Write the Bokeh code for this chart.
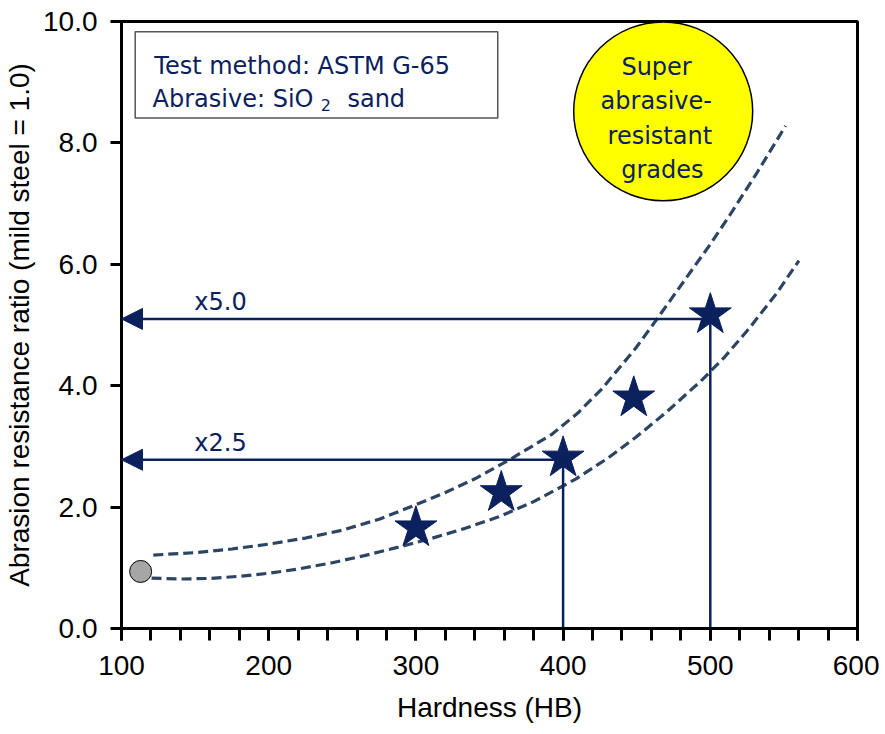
from bokeh.plotting import figure
from bokeh.models import (Range1d, SingleIntervalTicker, NumeralTickFormatter, Arrow,
                          NormalHead, Label, BoxAnnotation)
from bokeh.embed import file_html
from bokeh.resources import INLINE

# ---------------- data ----------------
mild_steel_hb = [113]
mild_steel_ratio = [0.94]

grade_hb = [300, 358, 400, 448, 500]
grade_ratio = [1.66, 2.24, 2.81, 3.80, 5.17]

upper_hb = [121.6, 150, 175, 200, 225, 250, 275, 297, 320, 340.4, 365, 392.4, 410, 426.4,
            449.4, 465.3, 483.5, 500, 513, 532, 551.1]
upper_ratio = [1.21, 1.25, 1.31, 1.39, 1.49, 1.62, 1.80, 2.01, 2.24, 2.47, 2.80, 3.20, 3.55, 3.95,
               4.62, 5.15, 5.77, 6.33, 6.80, 7.52, 8.28]

lower_hb = [120.4, 140, 160, 180, 200, 220, 242.4, 265, 288.1, 310, 333.5, 356.2, 380, 408.5,
            430, 449.4, 470, 494.6, 510, 526.6, 545, 560.2]
lower_ratio = [0.83, 0.815, 0.825, 0.86, 0.91, 0.98, 1.08, 1.20, 1.34, 1.48, 1.65, 1.84, 2.09, 2.46,
               2.80, 3.15, 3.56, 4.10, 4.48, 4.95, 5.52, 6.06]

marker_hb = [400, 500]
marker_ratio = [2.78, 5.10]
marker_text = ["x2.5", "x5.0"]

box_lines = ["Test method: ASTM G-65", "Abrasive: SiO", "2", "sand"]
circle_lines = ["Super", "abrasive-", "resistant", "grades"]

x_title = "Hardness (HB)"
y_title = "Abrasion resistance ratio (mild steel = 1.0)"

# ---------------- styles ----------------
NAVY = "#0b215e"
DASH = "#2b4562"
AX_FONT = "Liberation Sans"
NOTE_FONT = "DejaVu Sans"

p = figure(width=879, height=733, output_backend="svg", toolbar_location=None,
           x_range=Range1d(100, 600), y_range=Range1d(0, 10),
           min_border_left=121, min_border_right=22, min_border_top=21, min_border_bottom=105)
p.background_fill_color = "white"
p.border_fill_color = "white"
p.outline_line_color = "black"
p.outline_line_width = 3
p.xgrid.grid_line_color = None
p.ygrid.grid_line_color = None

# axes
p.xaxis.ticker = SingleIntervalTicker(interval=100, num_minor_ticks=5)
p.yaxis.ticker = SingleIntervalTicker(interval=2, num_minor_ticks=0)
p.yaxis.formatter = NumeralTickFormatter(format="0.0")
for ax in (p.xaxis[0], p.yaxis[0]):
    ax.axis_line_width = 3
    ax.axis_line_color = "black"
    ax.major_tick_line_width = 3
    ax.minor_tick_line_width = 3
    ax.major_tick_line_color = "black"
    ax.minor_tick_line_color = "black"
    ax.major_tick_in = 0
    ax.minor_tick_in = 0
    ax.major_label_text_font = AX_FONT
    ax.major_label_text_font_size = "28px"
    ax.major_label_text_color = "black"
    ax.axis_label_text_font = AX_FONT
    ax.axis_label_text_font_size = "28px"
    ax.axis_label_text_font_style = "normal"
    ax.axis_label_text_color = "black"
p.xaxis.major_tick_out = 12
p.xaxis.minor_tick_out = 12
p.yaxis.major_tick_out = 11
p.yaxis.minor_tick_out = 0
p.xaxis.major_label_standoff = 15
p.yaxis.major_label_standoff = 13
p.xaxis.axis_label = x_title
p.yaxis.axis_label = y_title
p.xaxis.axis_label_standoff = 14
p.yaxis.axis_label_standoff = 5

# dashed band
p.line(upper_hb, upper_ratio, line_color=DASH, line_width=3.2, line_dash="10 5")
p.line(lower_hb, lower_ratio, line_color=DASH, line_width=3.2, line_dash="10 5")

# reference lines with arrows
p.segment(x0=marker_hb, y0=[0, 0], x1=marker_hb, y1=marker_ratio, line_color=NAVY, line_width=2.5)
for hb, r, t in zip(marker_hb, marker_ratio, marker_text):
    p.add_layout(Arrow(end=NormalHead(size=21, fill_color=NAVY, line_color=NAVY, line_width=1),
                       x_start=hb, y_start=r, x_end=100, y_end=r,
                       line_color=NAVY, line_width=2.5))
    p.add_layout(Label(x=149.5, y=r + 0.28, text=t, text_font=NOTE_FONT,
                       text_font_size="24px", text_color=NAVY, text_baseline="alphabetic"))

# grades (stars) and mild steel
p.scatter(grade_hb, grade_ratio, marker="star", size=44, fill_color=NAVY, line_color=NAVY, line_width=1)
p.scatter(mild_steel_hb, mild_steel_ratio, marker="circle", size=22, fill_color="#a6a6a6",
          line_color="black", line_width=1)

# yellow badge
p.scatter([468.0], [8.52], marker="circle", size=179, fill_color="#ffff00", line_color="black", line_width=1.5)
for t, cx, by in zip(circle_lines, [463.5, 463.3, 465.7, 467.4], [9.245, 8.685, 8.119, 7.558]):
    p.add_layout(Label(x=cx, y=by, text=t, text_font=NOTE_FONT, text_font_size="24px",
                       text_color=NAVY, text_align="center", text_baseline="alphabetic"))

# info box
p.add_layout(BoxAnnotation(left=109.3, right=355.6, bottom=8.41, top=9.83, fill_color="white",
                           fill_alpha=1, line_color="#555555", line_width=1.5, line_alpha=1))
p.add_layout(Label(x=122.3, y=9.27, text=box_lines[0], text_font=NOTE_FONT, text_font_size="24px",
                   text_color=NAVY, text_baseline="alphabetic"))
p.add_layout(Label(x=121.1, y=8.72, text=box_lines[1], text_font=NOTE_FONT, text_font_size="24px",
                   text_color=NAVY, text_baseline="alphabetic"))
p.add_layout(Label(x=235.4, y=8.62, text=box_lines[2], text_font=NOTE_FONT, text_font_size="16px",
                   text_color=NAVY, text_baseline="alphabetic"))
p.add_layout(Label(x=253.5, y=8.72, text=box_lines[3], text_font=NOTE_FONT, text_font_size="24px",
                   text_color=NAVY, text_baseline="alphabetic"))

open("out.html", "w").write(file_html(p, INLINE))
